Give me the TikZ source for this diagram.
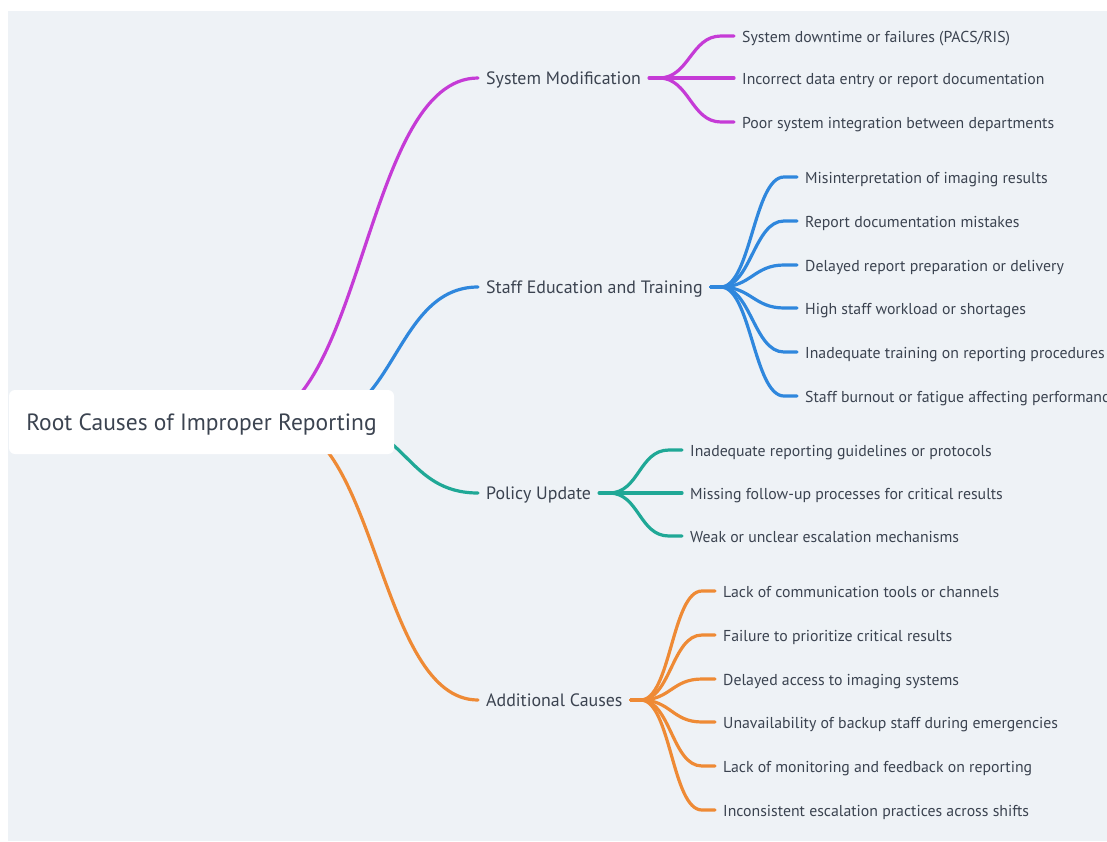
\documentclass[tikz,border=0pt]{standalone}
\usepackage{fontspec}
\setmainfont{PT Sans}
\usetikzlibrary{positioning}

\definecolor{inkgray}{HTML}{3B4350}
\definecolor{panelgray}{HTML}{EEF2F6}
\definecolor{sysmagenta}{HTML}{C53BD6}
\definecolor{staffblue}{HTML}{2F87DD}
\definecolor{policyteal}{HTML}{1FA896}
\definecolor{addorange}{HTML}{EE8A35}

\pgfdeclarelayer{panel}
\pgfdeclarelayer{links}
\pgfsetlayers{panel,links,main}

\begin{document}
\begin{tikzpicture}[
    x=1pt, y=-1pt,
    root/.style={fill=white, rounded corners=6pt, minimum width=385pt, minimum height=64pt,
        text height=16.5pt, text depth=0pt, text=inkgray, font=\fontsize{23.5}{27}\selectfont},
    topic/.style={anchor=west, inner xsep=8pt, inner ysep=0pt, text height=16.8pt, text depth=3.5pt,
        text=inkgray, font=\fontsize{17.9}{21}\selectfont},
    leaf/.style={anchor=west, inner xsep=8pt, inner ysep=0pt, text height=15.6pt, text depth=3pt,
        text=inkgray, font=\fontsize{15.8}{19}\selectfont},
    branch/.style={draw=#1, line width=3.2pt, line cap=round}
]
\useasboundingbox (0,0) rectangle (1107,841);

% Canvas
\begin{pgfonlayer}{panel}
\fill[white] (0,0) rectangle (1107,841);
\fill[panelgray] (8,11) rectangle (1107,841);
\end{pgfonlayer}

% Root and main topics
\node[root] (root) at (201.5,422) {Root Causes of Improper Reporting};
\node[topic] (sysmod) at (478,78) {System Modification};
\node[topic] (staffedu) at (478,287) {Staff Education and Training};
\node[topic] (policy) at (478,493) {Policy Update};
\node[topic] (addcause) at (478,700) {Additional Causes};

% Root links
\begin{pgfonlayer}{links}
\draw[branch=sysmagenta] ([xshift=48pt]root.center) .. controls +(114,0) and +(-114,0) .. (sysmod.west);
\draw[branch=staffblue] ([xshift=111pt]root.center) .. controls +(83,0) and +(-83,0) .. (staffedu.west);
\draw[branch=policyteal] ([xshift=133pt]root.center) .. controls +(72,0) and +(-72,0) .. (policy.west);
\draw[branch=addorange] ([xshift=76pt]root.center) .. controls +(100,0) and +(-100,0) .. (addcause.west);
\end{pgfonlayer}

% System Modification
\foreach \y/\txt [count=\i] in {36/{System downtime or failures (PACS/RIS)},
    78/Incorrect data entry or report documentation,
    122/Poor system integration between departments}{
  \node[leaf] (sm\i) at (734,\y) {\txt};
  \begin{pgfonlayer}{links}
  \draw[branch=sysmagenta] (sysmod.east) -- ++(10,0) .. controls +(30,0) and +(-30,0) .. ([xshift=-13pt]sm\i.west) -- (sm\i.west);
  \end{pgfonlayer}
}

% Staff Education and Training
\foreach \y/\txt [count=\i] in {177/Misinterpretation of imaging results,
    221/Report documentation mistakes,
    265/Delayed report preparation or delivery,
    308/High staff workload or shortages,
    352/Inadequate training on reporting procedures,
    396/Staff burnout or fatigue affecting performance}{
  \node[leaf] (se\i) at (797,\y) {\txt};
  \begin{pgfonlayer}{links}
  \draw[branch=staffblue] (staffedu.east) -- ++(10,0) .. controls +(30,0) and +(-30,0) .. ([xshift=-13pt]se\i.west) -- (se\i.west);
  \end{pgfonlayer}
}

% Policy Update
\foreach \y/\txt [count=\i] in {450/Inadequate reporting guidelines or protocols,
    493/Missing follow-up processes for critical results,
    536/Weak or unclear escalation mechanisms}{
  \node[leaf] (pu\i) at (682,\y) {\txt};
  \begin{pgfonlayer}{links}
  \draw[branch=policyteal] (policy.east) -- ++(10,0) .. controls +(30,0) and +(-30,0) .. ([xshift=-13pt]pu\i.west) -- (pu\i.west);
  \end{pgfonlayer}
}

% Additional Causes
\foreach \y/\txt [count=\i] in {591/Lack of communication tools or channels,
    635/Failure to prioritize critical results,
    679/Delayed access to imaging systems,
    722/Unavailability of backup staff during emergencies,
    766/Lack of monitoring and feedback on reporting,
    810/Inconsistent escalation practices across shifts}{
  \node[leaf] (ac\i) at (715,\y) {\txt};
  \begin{pgfonlayer}{links}
  \draw[branch=addorange] (addcause.east) -- ++(10,0) .. controls +(30,0) and +(-30,0) .. ([xshift=-13pt]ac\i.west) -- (ac\i.west);
  \end{pgfonlayer}
}

\end{tikzpicture}
\end{document}
